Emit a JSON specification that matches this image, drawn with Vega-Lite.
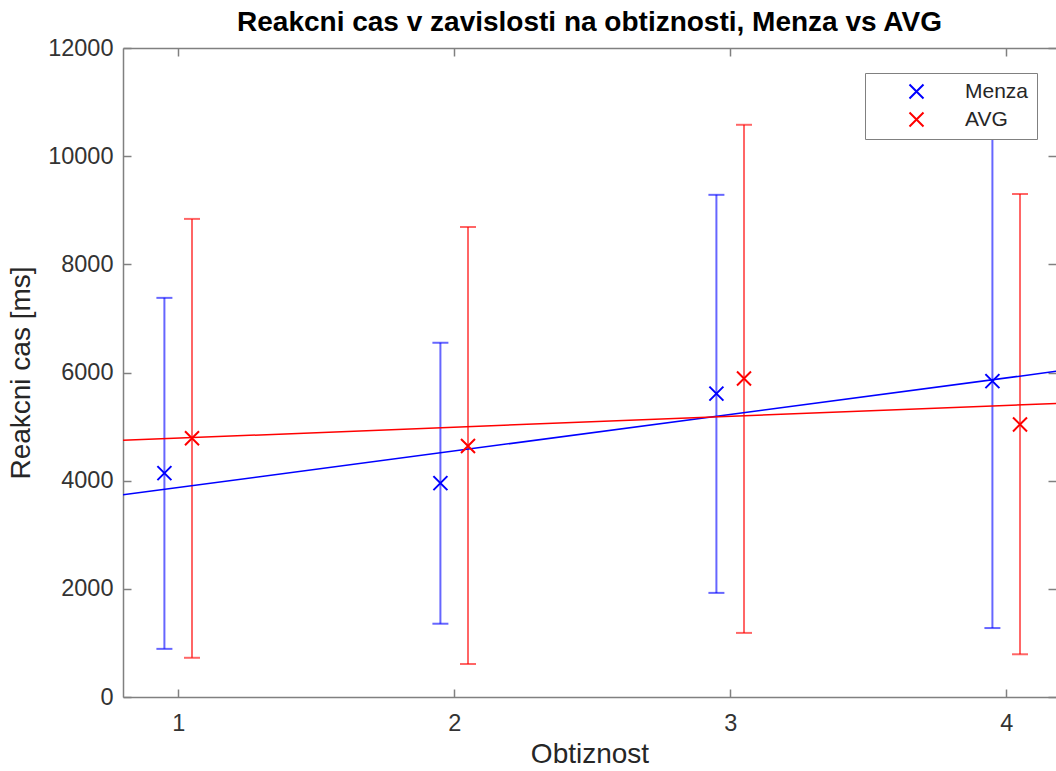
{
  "$schema": "https://vega.github.io/schema/vega-lite/v6.json",
  "width": 933,
  "height": 649,
  "autosize": {"type": "none"},
  "padding": {"left": 123, "top": 48, "right": 0, "bottom": 74},
  "background": "white",
  "config": {
    "font": "Liberation Sans",
    "view": {"stroke": null},
    "axis": {
      "grid": false,
      "domainColor": "#808080",
      "domainWidth": 1.5,
      "tickColor": "#808080",
      "tickWidth": 1.5,
      "tickSize": -8,
      "labelColor": "#333333",
      "labelFont": "Liberation Sans",
      "labelFontSize": 23.5,
      "titleFont": "Liberation Sans",
      "titleFontSize": 28,
      "titleFontWeight": "normal",
      "titleColor": "#262626"
    },
    "legend": {
      "orient": "none",
      "legendX": 742,
      "legendY": 25,
      "padding": 8,
      "strokeColor": "#808080",
      "fillColor": "white",
      "labelFont": "Liberation Sans",
      "labelFontSize": 21,
      "labelColor": "#262626",
      "symbolOffset": 33,
      "labelOffset": 38,
      "rowPadding": 5,
      "symbolType": "M-1,-1L1,1M-1,1L1,-1",
      "symbolSize": 196,
      "symbolStrokeWidth": 2,
      "symbolFillColor": "transparent"
    }
  },
  "title": {
    "text": "Reakcni cas v zavislosti na obtiznosti, Menza vs AVG",
    "font": "Liberation Sans",
    "fontSize": 28,
    "fontWeight": "bold",
    "color": "#000000",
    "anchor": "middle",
    "offset": -1
  },
  "data": {
    "values": [
      {"series": "Menza", "n": 1, "x": 0.95, "mean": 4140, "lo": 890, "hi": 7380},
      {"series": "Menza", "n": 2, "x": 1.95, "mean": 3955, "lo": 1355, "hi": 6550},
      {"series": "Menza", "n": 3, "x": 2.95, "mean": 5610, "lo": 1925, "hi": 9285},
      {"series": "Menza", "n": 4, "x": 3.95, "mean": 5840, "lo": 1275, "hi": 10405},
      {"series": "AVG", "n": 1, "x": 1.05, "mean": 4785, "lo": 725, "hi": 8840},
      {"series": "AVG", "n": 2, "x": 2.05, "mean": 4640, "lo": 610, "hi": 8690},
      {"series": "AVG", "n": 3, "x": 3.05, "mean": 5890, "lo": 1185, "hi": 10580},
      {"series": "AVG", "n": 4, "x": 4.05, "mean": 5040, "lo": 790, "hi": 9300}
    ]
  },
  "resolve": {"axis": {"x": "independent", "y": "independent"}},
  "layer": [
    {
      "mark": {"type": "rule", "strokeWidth": 2, "opacity": 0.6},
      "encoding": {
        "x": {
          "field": "x", "type": "quantitative",
          "scale": {"domain": [0.8, 4.1804], "nice": false, "zero": false},
          "axis": {"orient": "bottom", "values": [1, 2, 3, 4], "format": "d", "title": "Obtiznost", "labelPadding": 22, "titlePadding": 6}
        },
        "y": {
          "field": "lo", "type": "quantitative",
          "scale": {"domain": [0, 12000], "nice": false, "zero": false},
          "axis": {"orient": "left", "values": [0, 2000, 4000, 6000, 8000, 10000, 12000], "format": "d", "title": "Reakcni cas [ms]", "labelPadding": 18, "titlePadding": 12}
        },
        "y2": {"field": "hi"},
        "stroke": {
          "field": "series", "type": "nominal",
          "scale": {"domain": ["AVG", "Menza"], "range": ["#ff0000", "#0000ff"]},
          "legend": null
        }
      }
    },
    {
      "mark": {"type": "tick", "orient": "horizontal", "size": 16, "thickness": 2, "opacity": 0.6},
      "encoding": {
        "x": {"field": "x", "type": "quantitative", "scale": {"domain": [0.8, 4.1804], "nice": false, "zero": false}, "axis": null},
        "y": {"field": "lo", "type": "quantitative", "scale": {"domain": [0, 12000], "nice": false, "zero": false}, "axis": null},
        "fill": {"field": "series", "type": "nominal", "scale": {"domain": ["AVG", "Menza"], "range": ["#ff0000", "#0000ff"]}, "legend": null}
      }
    },
    {
      "mark": {"type": "tick", "orient": "horizontal", "size": 16, "thickness": 2, "opacity": 0.6},
      "encoding": {
        "x": {"field": "x", "type": "quantitative", "scale": {"domain": [0.8, 4.1804], "nice": false, "zero": false}, "axis": null},
        "y": {"field": "hi", "type": "quantitative", "scale": {"domain": [0, 12000], "nice": false, "zero": false}, "axis": null},
        "fill": {"field": "series", "type": "nominal", "scale": {"domain": ["AVG", "Menza"], "range": ["#ff0000", "#0000ff"]}, "legend": null}
      }
    },
    {
      "transform": [{"regression": "mean", "on": "n", "groupby": ["series"], "extent": [0.8, 4.2]}],
      "mark": {"type": "line", "strokeWidth": 1.5, "clip": true},
      "encoding": {
        "x": {
          "field": "n", "type": "quantitative",
          "scale": {"domain": [0.8, 4.1804], "nice": false, "zero": false},
          "axis": {"orient": "top", "values": [1, 2, 3, 4], "labels": false, "title": null, "domain": true}
        },
        "y": {
          "field": "mean", "type": "quantitative",
          "scale": {"domain": [0, 12000], "nice": false, "zero": false},
          "axis": {"orient": "right", "values": [0, 2000, 4000, 6000, 8000, 10000, 12000], "labels": false, "title": null, "domain": false}
        },
        "stroke": {"field": "series", "type": "nominal", "scale": {"domain": ["AVG", "Menza"], "range": ["#ff0000", "#0000ff"]}, "legend": null}
      }
    },
    {
      "mark": {"type": "point", "shape": "M-1,-1L1,1M-1,1L1,-1", "filled": false, "size": 196, "strokeWidth": 2, "opacity": 1},
      "encoding": {
        "x": {"field": "x", "type": "quantitative", "scale": {"domain": [0.8, 4.1804], "nice": false, "zero": false}, "axis": null},
        "y": {"field": "mean", "type": "quantitative", "scale": {"domain": [0, 12000], "nice": false, "zero": false}, "axis": null},
        "color": {
          "field": "series", "type": "nominal",
          "scale": {"domain": ["Menza", "AVG"], "range": ["#0000ff", "#ff0000"]},
          "legend": {"title": null, "symbolType": "M-1,-1L1,1M-1,1L1,-1"}
        }
      }
    }
  ]
}
